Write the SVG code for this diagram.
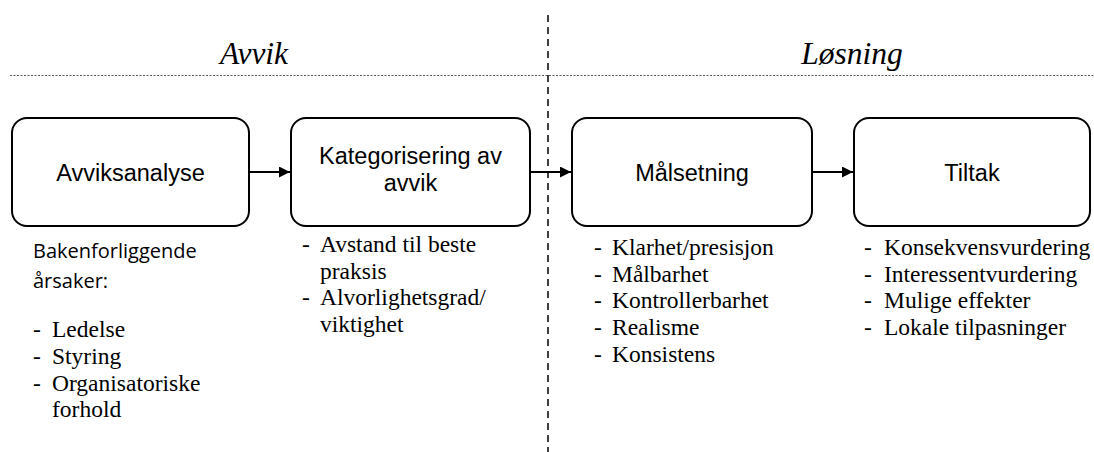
<svg xmlns="http://www.w3.org/2000/svg" width="1094" height="452" viewBox="0 0 1094 452">
  <style>
    .box { fill: #ffffff; stroke: #000000; stroke-width: 2; }
    .lbl { font-family: "Liberation Sans", Arial, sans-serif; font-size: 23.5px; fill: #000000; text-anchor: middle; }
    .head { font-family: "Liberation Serif", "Times New Roman", serif; font-style: italic; font-size: 31.5px; fill: #000000; text-anchor: middle; }
    .list { font-family: "Liberation Serif", "Times New Roman", serif; font-size: 23.5px; fill: #000000; }
    .cal { font-family: "Open Sans", "Liberation Sans", sans-serif; font-size: 20px; fill: #000000; }
    .conn { stroke: #000000; stroke-width: 2; fill: none; marker-end: url(#arrow); }
  </style>
  <defs>
    <marker id="arrow" viewBox="0 0 10 10" refX="10" refY="5" markerWidth="5.5" markerHeight="5.5" orient="auto" markerUnits="strokeWidth">
      <path d="M0,0 L10,5 L0,10 Z" fill="#000000"/>
    </marker>
  </defs>
  <rect width="1094" height="452" fill="#ffffff"/>

  <!-- section divider lines -->
  <g id="dividers">
    <line x1="10" y1="75.5" x2="1094" y2="75.5" stroke="#555555" stroke-width="1" stroke-dasharray="2,1.5"/>
    <line x1="548" y1="15" x2="548" y2="452" stroke="#000000" stroke-width="1.5" stroke-dasharray="7,5"/>
  </g>

  <!-- section headings -->
  <g id="headings">
    <text class="head" x="254" y="64">Avvik</text>
    <text class="head" x="852" y="64">Løsning</text>
  </g>

  <!-- process steps -->
  <g id="node-avviksanalyse">
    <rect class="box" x="12" y="118" width="237" height="108" rx="15" ry="15"/>
    <text class="lbl" x="130.5" y="181">Avviksanalyse</text>
  </g>
  <g id="node-kategorisering">
    <rect class="box" x="291" y="118" width="239" height="108" rx="15" ry="15"/>
    <text class="lbl" x="410.5" y="164">Kategorisering av</text>
    <text class="lbl" x="410.5" y="191">avvik</text>
  </g>
  <g id="node-malsetning">
    <rect class="box" x="572" y="118" width="240" height="108" rx="15" ry="15"/>
    <text class="lbl" x="692" y="181">Målsetning</text>
  </g>
  <g id="node-tiltak">
    <rect class="box" x="854" y="118" width="236" height="108" rx="15" ry="15"/>
    <text class="lbl" x="972" y="181">Tiltak</text>
  </g>

  <!-- connectors -->
  <g id="connectors">
    <line class="conn" x1="249" y1="172" x2="290" y2="172"/>
    <line class="conn" x1="530" y1="172" x2="571" y2="172"/>
    <line class="conn" x1="812" y1="172" x2="853" y2="172"/>
  </g>

  <!-- notes under each step -->
  <g id="notes-avviksanalyse">
    <text class="cal" x="33" y="258">Bakenforliggende</text>
    <text class="cal" x="33" y="288">årsaker:</text>
    <text class="list" x="33" y="337">-</text><text class="list" x="52" y="337">Ledelse</text>
    <text class="list" x="33" y="364">-</text><text class="list" x="52" y="364">Styring</text>
    <text class="list" x="33" y="391">-</text><text class="list" x="52" y="391">Organisatoriske</text>
    <text class="list" x="52" y="417">forhold</text>
  </g>
  <g id="notes-kategorisering">
    <text class="list" x="302" y="252">-</text><text class="list" x="320" y="252">Avstand til beste</text>
    <text class="list" x="320" y="279">praksis</text>
    <text class="list" x="302" y="305">-</text><text class="list" x="320" y="305">Alvorlighetsgrad/</text>
    <text class="list" x="320" y="332">viktighet</text>
  </g>
  <g id="notes-malsetning">
    <text class="list" x="594" y="255">-</text><text class="list" x="612" y="255">Klarhet/presisjon</text>
    <text class="list" x="594" y="282">-</text><text class="list" x="612" y="282">Målbarhet</text>
    <text class="list" x="594" y="308">-</text><text class="list" x="612" y="308">Kontrollerbarhet</text>
    <text class="list" x="594" y="335">-</text><text class="list" x="612" y="335">Realisme</text>
    <text class="list" x="594" y="362">-</text><text class="list" x="612" y="362">Konsistens</text>
  </g>
  <g id="notes-tiltak">
    <text class="list" x="864" y="255">-</text><text class="list" x="884" y="255">Konsekvensvurdering</text>
    <text class="list" x="864" y="282">-</text><text class="list" x="884" y="282">Interessentvurdering</text>
    <text class="list" x="864" y="308">-</text><text class="list" x="884" y="308">Mulige effekter</text>
    <text class="list" x="864" y="335">-</text><text class="list" x="884" y="335">Lokale tilpasninger</text>
  </g>
</svg>
